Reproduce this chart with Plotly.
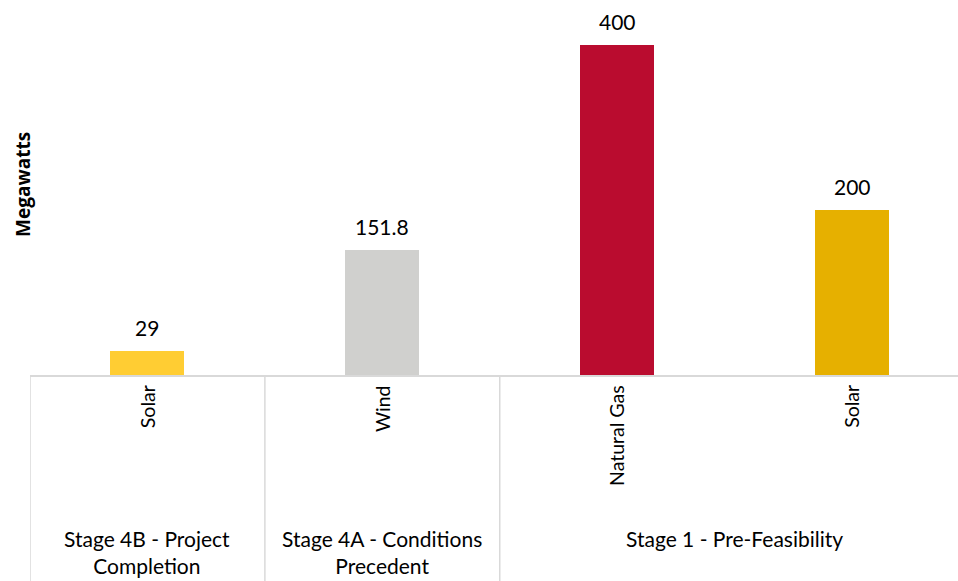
import plotly.graph_objects as go

# Project pipeline capacity by stage and technology
stages = ["Stage 4B - Project<br>Completion", "Stage 4A - Conditions<br>Precedent", "Stage 1 - Pre-Feasibility"]
stage_of_bar = [0, 1, 2, 2]
technologies = ["Solar", "Wind", "Natural Gas", "Solar"]
megawatts = [29, 151.8, 400, 200]
value_labels = ["29", "151.8", "400", "200"]

bar_colors = ["#FFCD33", "#D0D0CE", "#BA0C2F", "#E6B000"]

FONT = "Lato"
GRID = "#D9D9D9"

x_pos = list(range(len(technologies)))

fig = go.Figure()
fig.add_trace(go.Bar(
    x=x_pos,
    y=megawatts,
    width=0.315,
    marker=dict(color=bar_colors, line=dict(width=0)),
    hoverinfo="skip",
))

annotations = []
# Value labels above each bar
for i, (v, lab) in enumerate(zip(megawatts, value_labels)):
    annotations.append(dict(
        x=i, xref="x", y=v, yref="y",
        text=lab, showarrow=False,
        xanchor="center", yanchor="bottom", yshift=9,
        font=dict(family=FONT, size=21, color="#000000"),
    ))

# Technology labels, rotated under each bar
for i, t in enumerate(technologies):
    annotations.append(dict(
        x=i, xref="x", y=-0.022, yref="paper",
        text=t, textangle=-90, showarrow=False,
        xanchor="center", yanchor="top",
        font=dict(family=FONT, size=19.5, color="#000000"),
    ))

# Stage labels centred under their bars
for s_idx, s in enumerate(stages):
    members = [i for i, g in enumerate(stage_of_bar) if g == s_idx]
    lo, hi = min(members) - 0.5, max(members) + 0.5
    annotations.append(dict(
        x=(lo + hi) / 2, xref="x", y=-0.397, yref="paper",
        text=s, showarrow=False,
        xanchor="center", yanchor="top",
        font=dict(family=FONT, size=21, color="#000000"),
    ))

# Y-axis title
annotations.append(dict(
    x=-0.0075, xref="paper", y=0.507, yref="paper",
    xanchor="center", yanchor="middle",
    text="<b>Megawatts</b>", textangle=-90, showarrow=False,
    font=dict(family="Open Sans", size=19, color="#000000"),
))

# Dividers between stage groups
shapes = []
boundaries = [-0.5] + [i + 0.5 for i in range(len(stage_of_bar) - 1)
                       if stage_of_bar[i] != stage_of_bar[i + 1]]
for b in boundaries:
    shapes.append(dict(
        type="line", xref="x", yref="paper",
        x0=b, x1=b, y0=0, y1=-0.6,
        line=dict(color=GRID, width=1.5),
    ))

fig.update_layout(
    width=958, height=581,
    margin=dict(l=30, r=0, t=0, b=206),
    paper_bgcolor="white", plot_bgcolor="white",
    showlegend=False,
    bargap=0,
    xaxis=dict(
        range=[-0.5, 3.451], showticklabels=False, ticks="",
        showgrid=False, zeroline=False,
        showline=True, linecolor=GRID, linewidth=2,
        fixedrange=True,
    ),
    yaxis=dict(
        range=[0, 454.5], showticklabels=False, ticks="",
        showgrid=False, zeroline=False, showline=False,
        fixedrange=True,
    ),
    annotations=annotations,
    shapes=shapes,
)

fig.write_html("out.html")
